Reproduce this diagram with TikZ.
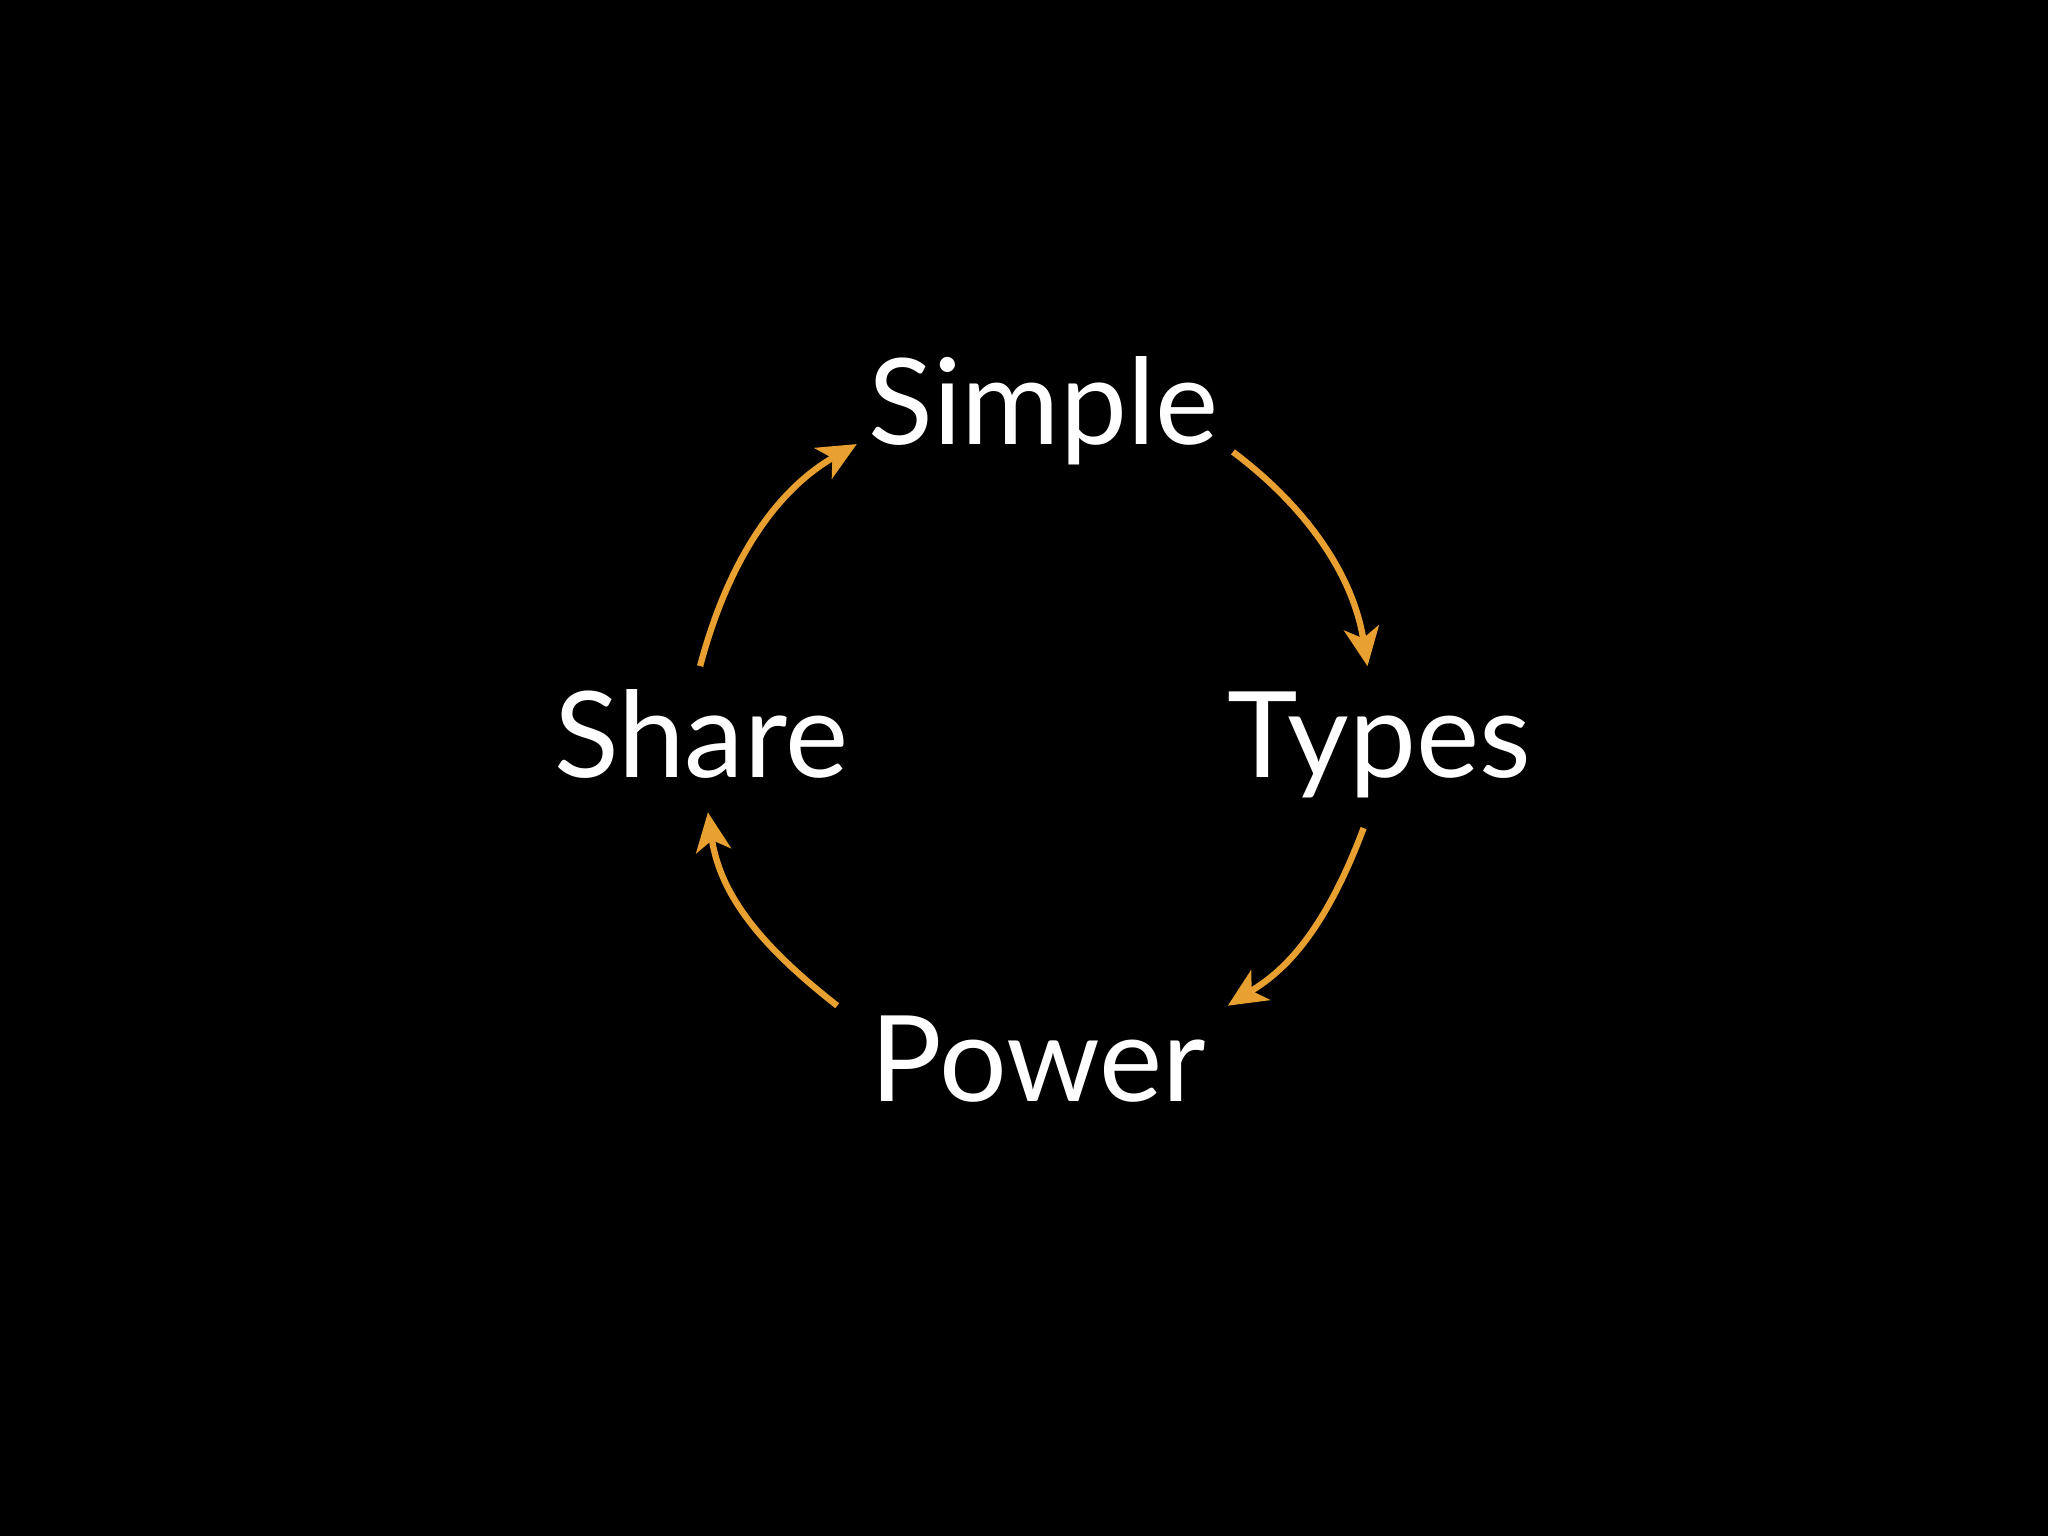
\documentclass[tikz,border=0pt]{standalone}
\usepackage{fontspec}
\setmainfont{Lato}
\usetikzlibrary{arrows.meta}
\definecolor{orng}{HTML}{E8A030}
\begin{document}
\begin{tikzpicture}[x=0.01306cm,y=-0.01306cm,
  lbl/.style={text=white,font=\fontsize{34}{40}\selectfont,anchor=base,inner sep=0},
  arr/.style={draw=orng,line width=1.8pt,-{Stealth[length=11pt,width=10pt,inset=3pt]}}]
\fill[black] (0,0) rectangle (1568,1176);
\node[lbl] (simple) at (799,340) {Simple};
\node[lbl] (types) at (1056,595) {Types};
\node[lbl] (share) at (537,595) {Share};
\node[lbl] (power) at (795,843) {Power};
\coordinate (a1) at (536,510); \coordinate (b1) at (656,340);
\coordinate (a2) at (944,346); \coordinate (b2) at (1047,510);
\coordinate (a3) at (1044,634); \coordinate (b3) at (940,770);
\coordinate (a4) at (641,770); \coordinate (b4) at (542,622);
\draw[arr] (a1) .. controls (560,420) and (600,372) .. (b1);
\draw[arr] (a2) .. controls (1000,388) and (1036,440) .. (b2);
\draw[arr] (a3) .. controls (1010,725) and (975,748) .. (b3);
\draw[arr] (a4) .. controls (590,730) and (552,690) .. (b4);
\end{tikzpicture}
\end{document}
